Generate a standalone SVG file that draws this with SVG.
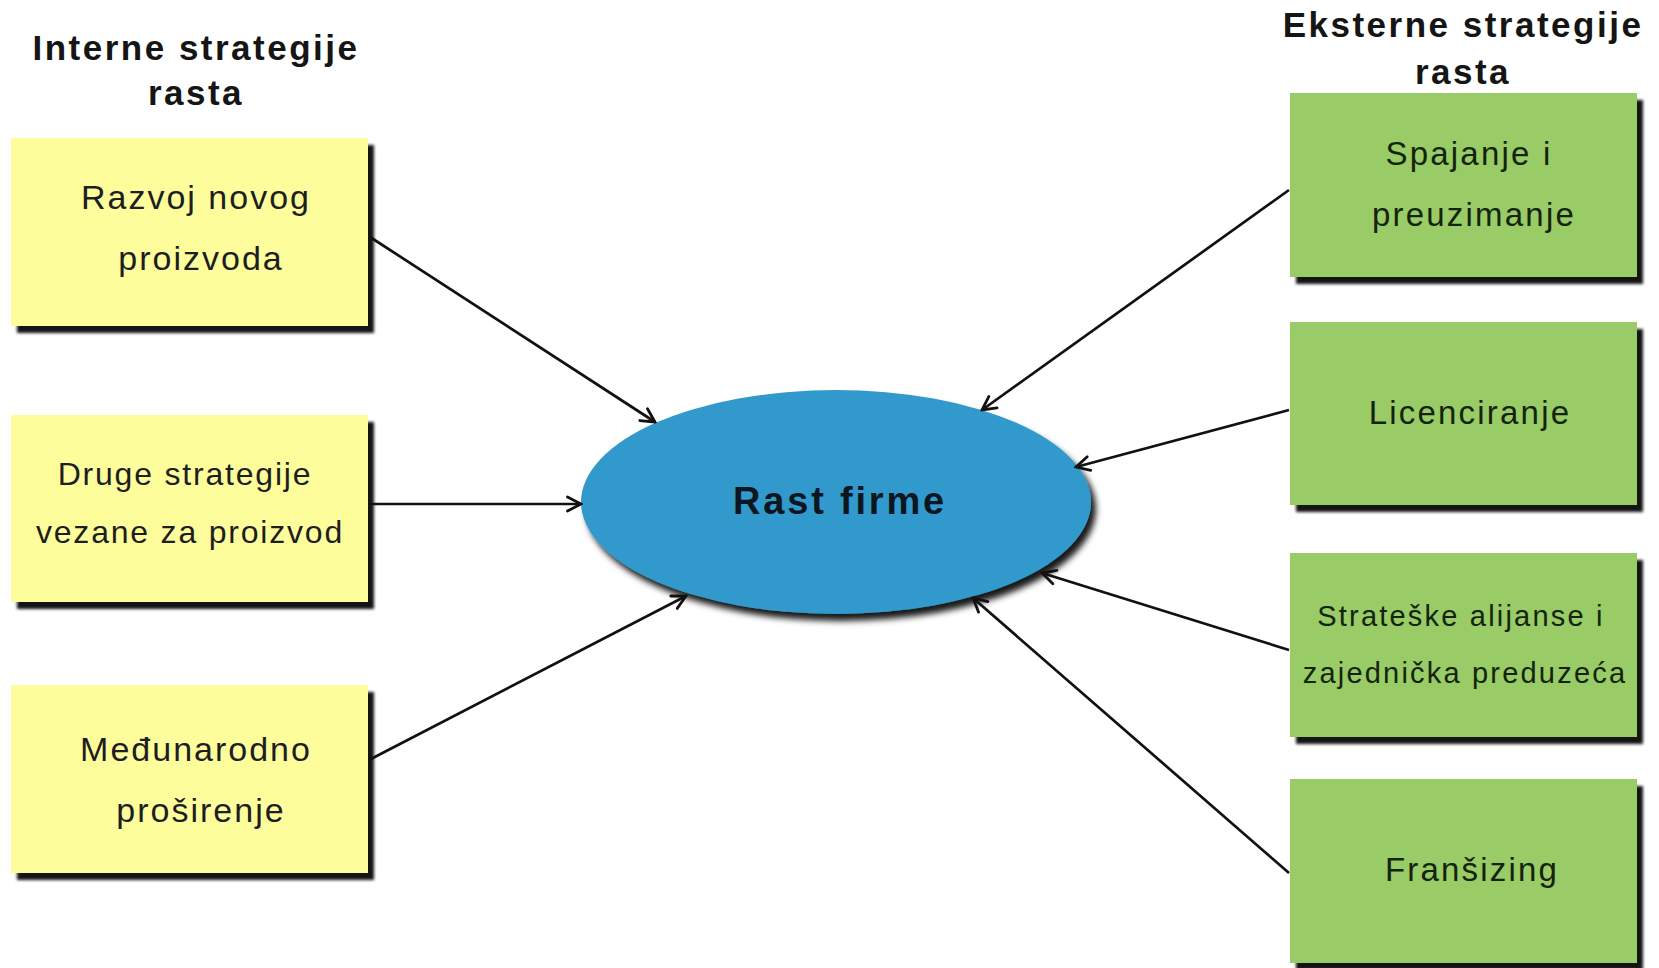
<svg xmlns="http://www.w3.org/2000/svg" width="1659" height="968" viewBox="0 0 1659 968">
  <defs>
    <filter id="boxShadow" x="-10%" y="-10%" width="130%" height="130%">
      <feDropShadow dx="6" dy="7" stdDeviation="1.6" flood-color="#000" flood-opacity="0.92"/>
    </filter>
    <filter id="ovalShadow" x="-10%" y="-10%" width="130%" height="130%">
      <feDropShadow dx="5" dy="7" stdDeviation="3" flood-color="#000" flood-opacity="0.9"/>
    </filter>
    <marker id="arrow" markerUnits="userSpaceOnUse" viewBox="0 0 18 18" refX="16" refY="9" markerWidth="18" markerHeight="18" orient="auto">
      <path d="M2.5,2 L16,9 L2.5,16" fill="none" stroke="#111" stroke-width="2.8" stroke-linecap="round" stroke-linejoin="miter"/>
    </marker>
  </defs>
  <style>
    .bg { fill: #ffffff; }
    .internal { fill: #fdfd9c; filter: url(#boxShadow); }
    .external { fill: #99cb66; filter: url(#boxShadow); }
    .oval { fill: #3399cc; filter: url(#ovalShadow); }
    .head { font-family: "Liberation Sans", Arial, sans-serif; font-weight: bold; font-size: 35px; letter-spacing: 2.5px; fill: #151515; text-anchor: middle; }
    .label { font-family: "Liberation Sans", Arial, sans-serif; font-size: 32px; letter-spacing: 1.8px; fill: #1e1e1e; text-anchor: middle; }
    .label-lg { font-family: "Liberation Sans", Arial, sans-serif; font-size: 34px; letter-spacing: 2px; fill: #1e1e1e; text-anchor: middle; }
    .glabel { font-family: "Liberation Sans", Arial, sans-serif; font-size: 33px; letter-spacing: 2.2px; fill: #14240c; text-anchor: middle; }
    .glabel-sm { font-family: "Liberation Sans", Arial, sans-serif; font-size: 29px; letter-spacing: 2.2px; fill: #14240c; text-anchor: middle; }
    .center { font-family: "Liberation Sans", Arial, sans-serif; font-weight: bold; font-size: 38px; letter-spacing: 2.8px; fill: #0c1620; text-anchor: middle; }
    .link { stroke: #111; stroke-width: 2.7; fill: none; marker-end: url(#arrow); }
  </style>

  <rect class="bg" x="0" y="0" width="1659" height="968"/>

  <!-- column headings -->
  <g id="heading-internal">
    <text class="head" x="196" y="60">Interne strategije</text>
    <text class="head" x="196" y="105">rasta</text>
  </g>
  <g id="heading-external">
    <text class="head" x="1463" y="37">Eksterne strategije</text>
    <text class="head" x="1463" y="84">rasta</text>
  </g>

  <!-- internal growth strategies -->
  <g id="node-razvoj">
    <rect class="internal" x="11" y="138" width="357" height="188"/>
    <text class="label-lg" x="196" y="209">Razvoj novog</text>
    <text class="label-lg" x="201" y="270">proizvoda</text>
  </g>
  <g id="node-druge">
    <rect class="internal" x="11" y="415" width="357" height="187"/>
    <text class="label" x="185" y="485">Druge strategije</text>
    <text class="label" x="190" y="543">vezane za proizvod</text>
  </g>
  <g id="node-medjunarodno">
    <rect class="internal" x="11" y="685" width="357" height="188"/>
    <text class="label-lg" x="196" y="761">Međunarodno</text>
    <text class="label-lg" x="201" y="822">proširenje</text>
  </g>

  <!-- external growth strategies -->
  <g id="node-spajanje">
    <rect class="external" x="1290" y="93" width="347" height="184"/>
    <text class="glabel" x="1469" y="165">Spajanje i</text>
    <text class="glabel" x="1474" y="226">preuzimanje</text>
  </g>
  <g id="node-licenciranje">
    <rect class="external" x="1290" y="322" width="347" height="183"/>
    <text class="glabel" x="1470" y="424">Licenciranje</text>
  </g>
  <g id="node-alijanse">
    <rect class="external" x="1290" y="553" width="347" height="184"/>
    <text class="glabel-sm" x="1461" y="626">Strateške alijanse i</text>
    <text class="glabel-sm" x="1465" y="683">zajednička preduzeća</text>
  </g>
  <g id="node-fransizing">
    <rect class="external" x="1290" y="779" width="347" height="184"/>
    <text class="glabel" x="1472" y="881">Franšizing</text>
  </g>

  <!-- central node -->
  <g id="node-rast">
    <ellipse class="oval" cx="836" cy="502" rx="255" ry="112"/>
    <text class="center" x="840" y="514">Rast firme</text>
  </g>

  <!-- connectors -->
  <g id="connectors">
    <line class="link" x1="370" y1="237" x2="655" y2="422"/>
    <line class="link" x1="370" y1="504" x2="581" y2="504"/>
    <line class="link" x1="369" y1="760" x2="686" y2="596"/>
    <line class="link" x1="1289" y1="190" x2="982" y2="410"/>
    <line class="link" x1="1289" y1="410" x2="1076" y2="467"/>
    <line class="link" x1="1289" y1="650" x2="1042" y2="573"/>
    <line class="link" x1="1289" y1="873" x2="973" y2="598"/>
  </g>
</svg>
